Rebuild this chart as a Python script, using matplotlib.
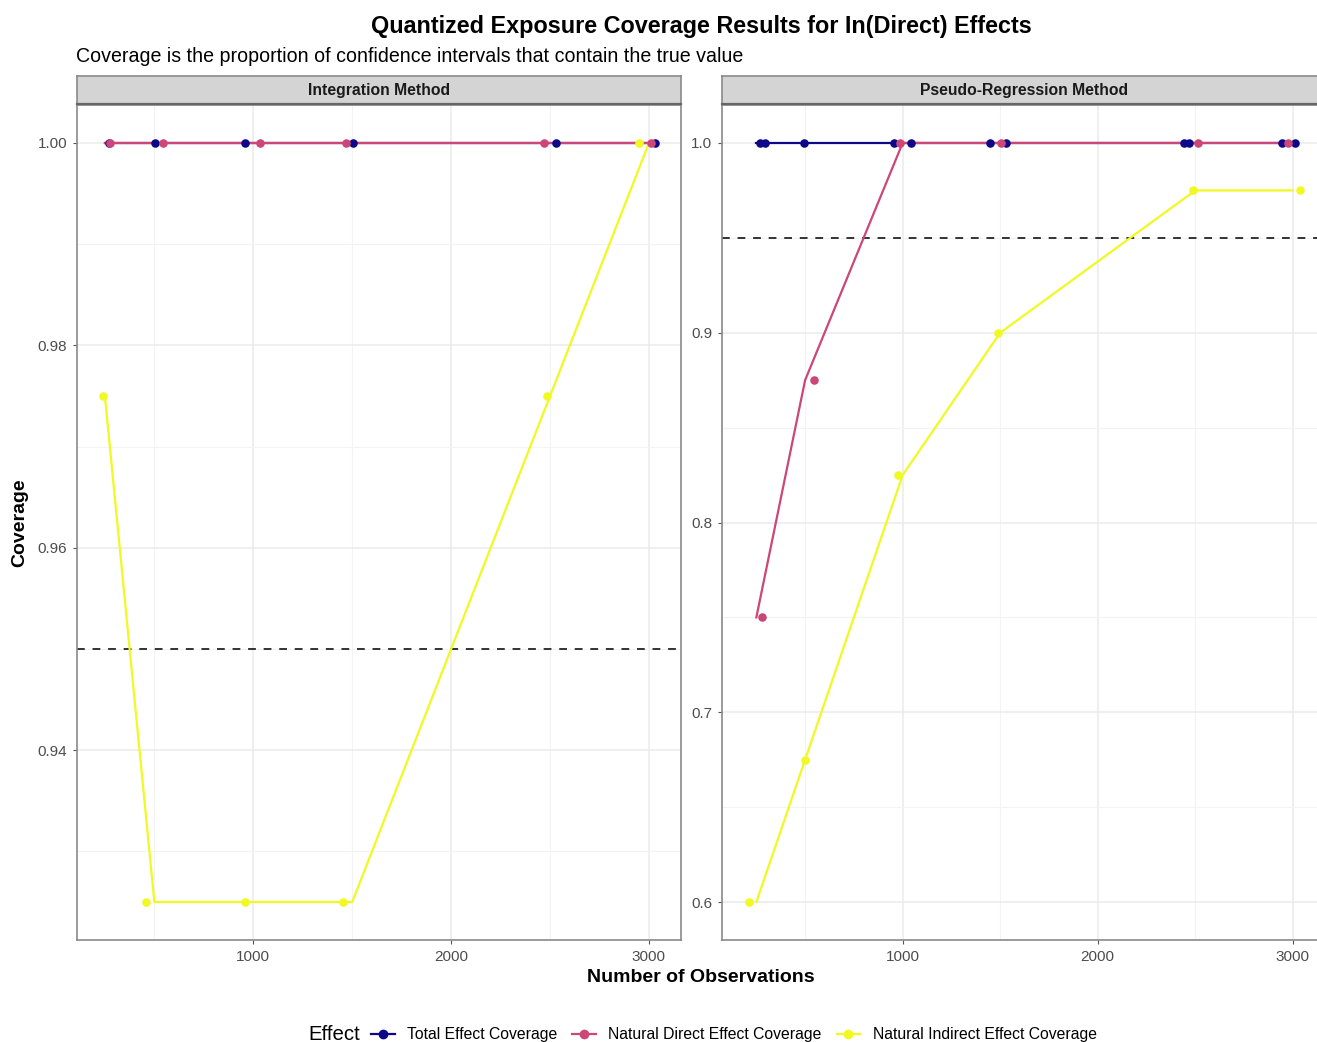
import matplotlib.pyplot as plt
from matplotlib.lines import Line2D

# sample sizes used for the lines
sample_sizes = [250, 500, 1000, 1500, 2500, 3000]

# Integration method coverage
int_total = [1.0, 1.0, 1.0, 1.0, 1.0, 1.0]
int_nde = [1.0, 1.0, 1.0, 1.0, 1.0, 1.0]
int_nie = [0.975, 0.925, 0.925, 0.925, 0.975, 1.0]

# Pseudo-regression method coverage
pr_total = [1.0, 1.0, 1.0, 1.0, 1.0, 1.0]
pr_nde = [0.75, 0.875, 1.0, 1.0, 1.0, 1.0]
pr_nie = [0.6, 0.675, 0.825, 0.9, 0.975, 0.975]

# jittered point positions (x)
int_total_px = [272, 504, 960, 1506, 2532, 3030]
int_nde_px = [278, 544, 1032, 1468, 2468, 3008]
int_nie_px = [240, 460, 960, 1456, 2484, 2950]

pr_total_px = [270, 296, 496, 956, 1042, 1450, 1530, 2440, 2466, 2944, 3010]
pr_total_py = [1.0, 1.0, 1.0, 1.0, 1.0, 1.0, 1.0, 1.0, 1.0, 1.0, 1.0]
pr_nde_px = [277, 544, 986, 1506, 2514, 2976]
pr_nie_px = [210, 497, 974, 1487, 2487, 3036]

effects = ['Total Effect Coverage', 'Natural Direct Effect Coverage',
           'Natural Indirect Effect Coverage']
colors = ['#0D0887', '#CC4678', '#F0F921']

plt.rcParams['font.family'] = ['Liberation Sans', 'DejaVu Sans']

W, H = 1317, 1042
fig = plt.figure(figsize=(W / 100, H / 100), dpi=100)


def px_axes(x0, y0, x1, y1):
    return fig.add_axes([x0 / W, 1 - y1 / H, (x1 - x0) / W, (y1 - y0) / H])


# facets use free scales, so each panel gets its own x and y range
panels = [
    ('Integration Method', 77, (109, 3162),
     [(sample_sizes, int_total, int_total_px, int_total),
      (sample_sizes, int_nde, int_nde_px, int_nde),
      (sample_sizes, int_nie, int_nie_px, int_nie)],
     (0.92125, 1.00375), [0.94, 0.96, 0.98, 1.00], [0.93, 0.95, 0.97, 0.99], '{:.2f}'),
    ('Pseudo-Regression Method', 722, (74, 3170),
     [(sample_sizes, pr_total, pr_total_px, pr_total_py),
      (sample_sizes, pr_nde, pr_nde_px, pr_nde),
      (sample_sizes, pr_nie, pr_nie_px, pr_nie)],
     (0.58, 1.02), [0.6, 0.7, 0.8, 0.9, 1.0], [0.65, 0.75, 0.85, 0.95], '{:.1f}'),
]

border = '#8A8A8A'

for name, x0, xlim, series, ylim, yticks, yminor, fmt in panels:
    ax = px_axes(x0, 105, x0 + 604, 940)
    ax.set_xlim(*xlim)
    ax.set_ylim(*ylim)
    ax.set_xticks([1000, 2000, 3000])
    ax.set_xticks([500, 1500, 2500], minor=True)
    ax.set_yticks(yticks)
    ax.set_yticks(yminor, minor=True)
    ax.set_yticklabels([fmt.format(v) for v in yticks])
    ax.grid(True, which='major', color='#EBEBEB', lw=1.1, zorder=0)
    ax.grid(True, which='minor', color='#F3F3F3', lw=0.8, zorder=0)
    ax.set_axisbelow(True)
    ax.tick_params(which='major', length=3, color='#555555', labelsize=11,
                   labelcolor='#4D4D4D', pad=4)
    ax.tick_params(which='minor', length=0)
    for s in ax.spines.values():
        s.set_color(border)
        s.set_linewidth(1.2)
    ax.axhline(0.95, color='#333333', ls=(0, (4, 4)), lw=1.4, zorder=2)
    for (lx, ly, ptx, pty), c in zip(series, colors):
        ax.plot(lx, ly, color=c, lw=1.6, zorder=3)
    for (lx, ly, ptx, pty), c in zip(series, colors):
        ax.scatter(ptx, pty, color=c, s=38, zorder=4, linewidths=0)

    strip = px_axes(x0, 76, x0 + 604, 104)
    strip.set_facecolor('#D4D4D4')
    strip.set_xticks([])
    strip.set_yticks([])
    for s in strip.spines.values():
        s.set_color(border)
        s.set_linewidth(1.2)
    strip.spines['bottom'].set_color('#666666')
    strip.spines['bottom'].set_linewidth(1.6)
    strip.text(0.5, 0.5, name, ha='center', va='center', fontsize=11.3,
               fontweight='bold', color='#1A1A1A', transform=strip.transAxes)

fig.text(701 / W, 1 - 27 / H, 'Quantized Exposure Coverage Results for In(Direct) Effects',
         ha='center', va='center', fontsize=16.8, fontweight='bold')
fig.text(76 / W, 1 - 57 / H,
         'Coverage is the proportion of confidence intervals that contain the true value',
         ha='left', va='center', fontsize=14.1)
fig.text(701 / W, 1 - 978 / H, 'Number of Observations', ha='center', va='center',
         fontsize=14, fontweight='bold')
fig.text(20 / W, 1 - 523 / H, 'Coverage', ha='center', va='center', rotation=90,
         fontsize=14, fontweight='bold')

handles = [Line2D([], [], color=c, lw=1.6, marker='o', ms=6, mec=c) for c in colors]
fig.text(308 / W, 1 - 1035 / H, 'Effect', ha='left', va='center', fontsize=14.7)
fig.legend(handles, effects, loc='center left', bbox_to_anchor=(371 / W, 1 - 1035 / H),
           ncol=3, frameon=False, fontsize=11.3, handlelength=1.5, handletextpad=0.8,
           columnspacing=0.95, borderpad=0, borderaxespad=0)

fig.savefig('out.png', dpi=100)
